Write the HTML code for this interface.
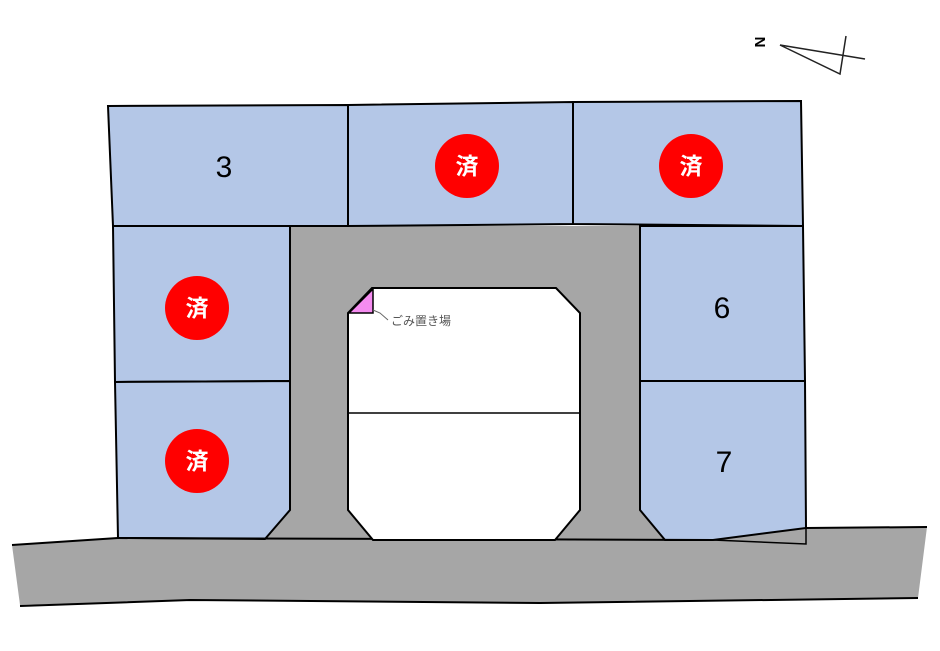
<!DOCTYPE html>
<html><head><meta charset="utf-8"><style>body{margin:0;background:#fff}svg{display:block}</style></head><body>
<svg width="940" height="651" viewBox="0 0 940 651" xmlns="http://www.w3.org/2000/svg" font-family="Liberation Sans, Noto Sans CJK JP, sans-serif">
<polygon points="12,545 118,538 640,540 806,528 927,527 918,598 540,603 190,600 20,605" fill="#a6a6a6"/>
<polyline points="12,545 118,538" stroke="#000" stroke-width="2" fill="none"/>
<polyline points="20,606 190,600 540,603 918,598" stroke="#000" stroke-width="2" fill="none"/>
<polyline points="806,528 927,527" stroke="#000" stroke-width="2" fill="none"/>
<polygon points="290,226 640,226 640,510 667,542 263,542 290,505" fill="#a6a6a6"/>
<g fill="#b4c7e7" stroke="#000" stroke-width="2">
<polygon points="108,106 348,105 348,226 113,226"/>
<polygon points="348,105 573,102 573,224 348,226"/>
<polygon points="573,102 801,101 803,226 573,224"/>
<polygon points="113,226 290,226 290,381 115,382"/>
<polygon points="115,382 290,381 290,510 265,539 118,538"/>
<polygon points="640,226 803,226 805,381 640,381"/>
<polygon points="640,381 805,381 806,528 713,540 665,540 640,510"/>
</g>
<polyline points="713,540 806,544 806,528" stroke="#000" stroke-width="1.5" fill="none"/>
<line x1="118" y1="538" x2="713" y2="540" stroke="#000" stroke-width="2"/>
<polygon points="372,288 556,288 580,313 580,510 555,540 373,540 348,510 348,313" fill="#fff" stroke="#000" stroke-width="2"/>
<line x1="348" y1="413" x2="580" y2="413" stroke="#000" stroke-width="1.5"/>
<polygon points="349,313 373,289 373,313" fill="#f58cf0" stroke="#000" stroke-width="1.5"/>
<polyline points="373,310 380,313 388,320" stroke="#666" stroke-width="1" fill="none"/>
<text x="391" y="325" font-size="12" fill="#555">ごみ置き場</text>
<g fill="#ff0000"><circle cx="467" cy="166" r="32"/><circle cx="691" cy="166" r="32"/><circle cx="197" cy="308" r="32"/><circle cx="197" cy="461" r="32"/></g>
<g fill="#fff" font-size="23" font-weight="bold" text-anchor="middle">
<text x="467" y="174">済</text><text x="691" y="174">済</text><text x="197" y="316">済</text><text x="197" y="469">済</text></g>
<g font-size="30" text-anchor="middle" fill="#000"><text x="224" y="177">3</text><text x="722" y="318">6</text><text x="724" y="472">7</text></g>
<text x="760" y="47" font-size="15" font-weight="bold" transform="rotate(90 760 42)" text-anchor="middle">N</text>
<polyline points="780,45 840,74 846,36" stroke="#222" stroke-width="1.5" fill="none"/>
<line x1="780" y1="45" x2="865" y2="59" stroke="#222" stroke-width="1.5"/>
</svg>
</body></html>
